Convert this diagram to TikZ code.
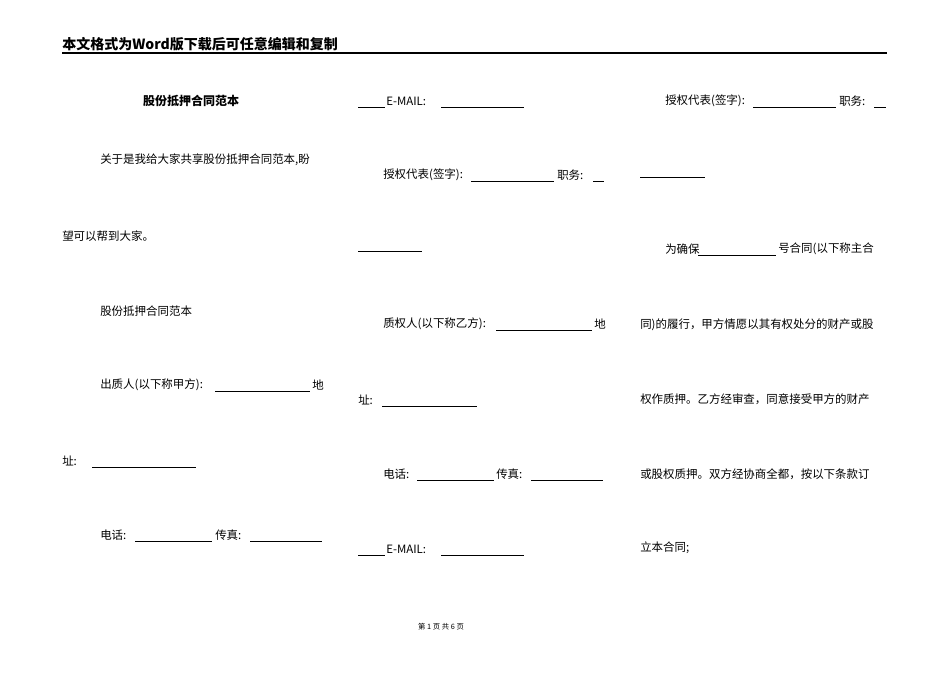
\documentclass[tikz,border=0pt]{standalone}
\usepackage{fontspec}
\setmainfont{Liberation Serif}
\newfontfamily\cjk{Noto Sans CJK SC}
\begin{document}
\begin{tikzpicture}[x=0.75pt,y=-0.75pt,
 t/.style={anchor=west,inner sep=0pt,font=\cjk\fontsize{8.6pt}{10pt}\selectfont},
 ul/.style={line width=0.6pt},
 hd/.style={anchor=west,inner sep=0pt,font=\cjk\bfseries\fontsize{10.5pt}{12pt}\selectfont}]
\useasboundingbox (0,0) rectangle (950,672);
\fill[white] (0,0) rectangle (950,672);
% header
\node[hd] (hdr) at (62,44) {本文格式为Word版下载后可任意编辑和复制};
\draw[line width=0.9pt] (62,53) -- (887,53);
\node[inner sep=0pt,font=\cjk\fontsize{5.5pt}{6pt}\selectfont] (ftr) at (441,627) {第 1 页 共 6 页};
% column 1
\node[hd,anchor=center,font=\cjk\bfseries\fontsize{9pt}{10pt}\selectfont] (title) at (191,101) {股份抵押合同范本};
\node[t] (a1) at (100,160) {关于是我给大家共享股份抵押合同范本,盼};
\node[t] (a2) at (62,236) {望可以帮到大家。};
\node[t] (a3) at (100,311) {股份抵押合同范本};
\node[t] (a4) at (100,385) {出质人(以下称甲方):};
\draw[ul] (215,391) -- (310,391);
\node[t] (a4b) at (312,385) {地};
\node[t] (a5) at (62,461) {址:};
\draw[ul] (92,467) -- (196,467);
\node[t] (a6) at (100,535) {电话:};
\draw[ul] (135,541) -- (212,541);
\node[t] (a6b) at (215,535) {传真:};
\draw[ul] (250,541) -- (322,541);
% column 2
\draw[ul] (358,107) -- (385,107);
\node[t] (b1) at (386,101) {E-MAIL:};
\draw[ul] (441,107) -- (524,107);
\node[t] (b2) at (383,175) {授权代表(签字):};
\draw[ul] (471,181) -- (554,181);
\node[t] (b2b) at (557,175) {职务:};
\draw[ul] (593,181) -- (604,181);
\draw[ul] (358,251) -- (422,251);
\node[t] (b3) at (383,324) {质权人(以下称乙方):};
\draw[ul] (496,330) -- (592,330);
\node[t] (b3b) at (594,324) {地};
\node[t] (b4) at (358,400) {址:};
\draw[ul] (382,406) -- (477,406);
\node[t] (b5) at (383,474) {电话:};
\draw[ul] (417,480) -- (494,480);
\node[t] (b5b) at (496,474) {传真:};
\draw[ul] (531,480) -- (603,480);
\draw[ul] (358,555) -- (385,555);
\node[t] (b6) at (386,549) {E-MAIL:};
\draw[ul] (441,555) -- (524,555);
% column 3
\node[t] (c1) at (665,101) {授权代表(签字):};
\draw[ul] (753,107) -- (836,107);
\node[t] (c1b) at (839,101) {职务:};
\draw[ul] (874,107) -- (886,107);
\draw[ul] (640,177) -- (705,177);
\node[t] (c2) at (665,249) {为确保};
\draw[ul] (698,255) -- (776,255);
\node[t] (c2b) at (778,249) {号合同(以下称主合};
\node[t] (c3) at (640,325) {同)的履行，甲方情愿以其有权处分的财产或股};
\node[t] (c4) at (640,399) {权作质押。乙方经审查，同意接受甲方的财产};
\node[t] (c5) at (640,474) {或股权质押。双方经协商全都，按以下条款订};
\node[t] (c6) at (640,548) {立本合同;};
\end{tikzpicture}
\end{document}
